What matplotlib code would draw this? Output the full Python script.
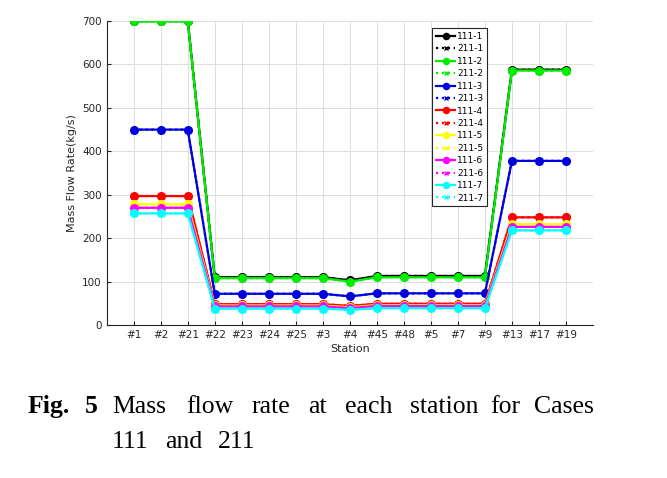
import matplotlib.pyplot as plt

stations = ['#1', '#2', '#21', '#22', '#23', '#24', '#25', '#3', '#4',
            '#45', '#48', '#5', '#7', '#9', '#13', '#17', '#19']

case_1 = [700, 700, 700, 110, 110, 110, 110, 110, 103, 113, 113, 113, 113, 113, 588, 588, 588]
case_2 = [699, 699, 699, 108, 108, 108, 108, 108, 100, 110, 110, 110, 110, 110, 586, 586, 586]
case_3 = [450, 450, 450, 72, 72, 72, 72, 72, 66, 73, 73, 73, 73, 73, 378, 378, 378]
case_4 = [297, 297, 297, 48, 48, 48, 48, 48, 44, 49, 49, 49, 49, 49, 248, 248, 248]
case_5 = [278, 278, 278, 45, 45, 45, 45, 45, 41, 46, 46, 46, 46, 46, 232, 232, 232]
case_6 = [270, 270, 270, 43, 43, 43, 43, 43, 39, 44, 44, 44, 44, 44, 226, 226, 226]
case_7 = [257, 257, 257, 38, 38, 38, 38, 38, 35, 39, 39, 39, 39, 39, 218, 218, 218]

series = [case_1, case_2, case_3, case_4, case_5, case_6, case_7]
colors = ['black', '#00ee00', '#0000dd', '#ff0000', '#ffff00', '#ff00ff', '#00ffff']

fig = plt.figure(figsize=(6.67, 4.78), dpi=100)
ax = fig.add_axes([0.160, 0.320, 0.729, 0.636])

x = list(range(len(stations)))
handles = []
for i, (vals, c) in enumerate(zip(series, colors)):
    h1, = ax.plot(x, vals, '-o', color=c, lw=1.6, ms=5.5, zorder=3 + i * 0.1,
                  label='111-%d' % (i + 1))
    h2, = ax.plot(x, vals, ':x', color=c, lw=1.6, ms=4, zorder=2,
                  label='211-%d' % (i + 1))
    handles += [h1, h2]

ax.set_xlim(-1, len(stations))
ax.set_ylim(0, 700)
ax.set_xticks(x)
ax.set_xticklabels(stations)
ax.set_yticks(range(0, 701, 100))
ax.tick_params(labelsize=7.5, colors='#262626', direction='in', length=3)
ax.grid(True, color='#dddddd', lw=0.7)
ax.set_axisbelow(True)
for side in ['top', 'right']:
    ax.spines[side].set_visible(False)
for side in ['left', 'bottom']:
    ax.spines[side].set_color('#262626')
ax.set_xlabel('Station', fontsize=8, color='#262626', labelpad=3)
ax.set_ylabel('Mass Flow Rate(kg/s)', fontsize=8, color='#262626')

leg = ax.legend(handles=handles, loc='upper left', bbox_to_anchor=(0.669, 0.976),
                fontsize=6.5, handlelength=2.2, handletextpad=0.2, labelspacing=0.38,
                borderpad=0.4, borderaxespad=0, fancybox=False, framealpha=1,
                markerscale=0.8)
leg.get_frame().set_edgecolor('#262626')
leg.get_frame().set_linewidth(0.8)

# caption, words placed to mimic the justified line
serif = 'Liberation Serif'
W, H = 667.0, 478.0
fig.text(28 / W, 1 - 413 / H, 'Fig.', fontsize=18.5, fontweight='bold', family=serif)
fig.text(85 / W, 1 - 413 / H, '5', fontsize=18.5, fontweight='bold', family=serif)
words = ['Mass', 'flow', 'rate', 'at', 'each', 'station', 'for', 'Cases']
word_x = [112, 186, 251, 308, 345, 410, 490, 534]
for w, px in zip(words, word_x):
    fig.text(px / W, 1 - 413 / H, w, fontsize=18.5, family=serif)
for w, px in zip(['111', 'and', '211'], [112, 165, 218]):
    fig.text(px / W, 1 - 448 / H, w, fontsize=18.5, family=serif)

fig.savefig('out.png', dpi=100)
